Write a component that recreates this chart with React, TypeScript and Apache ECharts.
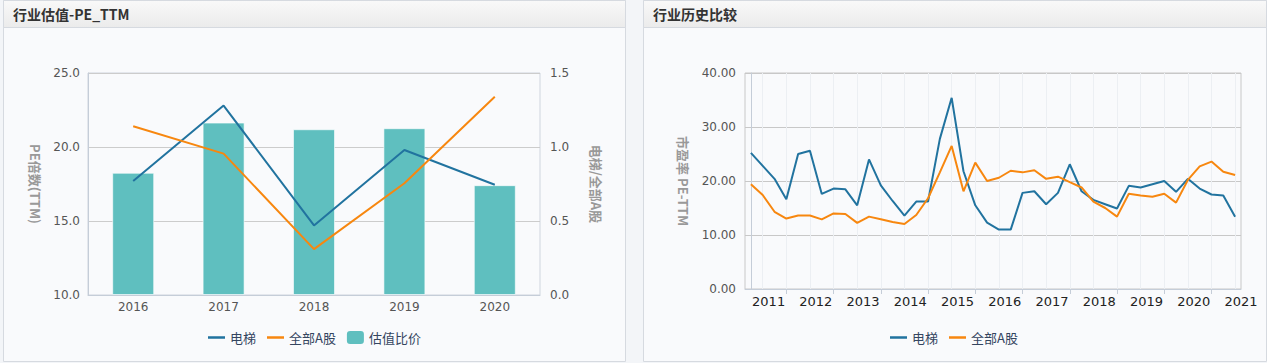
import React, { useEffect, useRef } from 'react';
import * as echarts from 'echarts';

// ---- Left chart: 行业估值-PE_TTM ----
const years = ['2016', '2017', '2018', '2019', '2020'];
const peElevator = [17.7, 22.8, 14.7, 19.8, 17.45];
const peAllA = [21.4, 19.55, 13.1, 17.55, 23.4];
const valuationRatio = [0.826, 1.165, 1.12, 1.127, 0.742];

// ---- Right chart: 行业历史比较 ----
const quarters = [
  '2011Q1', '2011Q2', '2011Q3', '2011Q4',
  '2012Q1', '2012Q2', '2012Q3', '2012Q4',
  '2013Q1', '2013Q2', '2013Q3', '2013Q4',
  '2014Q1', '2014Q2', '2014Q3', '2014Q4',
  '2015Q1', '2015Q2', '2015Q3', '2015Q4',
  '2016Q1', '2016Q2', '2016Q3', '2016Q4',
  '2017Q1', '2017Q2', '2017Q3', '2017Q4',
  '2018Q1', '2018Q2', '2018Q3', '2018Q4',
  '2019Q1', '2019Q2', '2019Q3', '2019Q4',
  '2020Q1', '2020Q2', '2020Q3', '2020Q4',
  '2021Q1', '2021Q2',
];
const histElevator = [
  25.2, 22.8, 20.4, 16.6, 25.0, 25.6, 17.6, 18.6, 18.45, 15.5,
  24.0, 19.2, 16.3, 13.6, 16.2, 16.2, 27.8, 35.4, 21.8, 15.5,
  12.3, 11.0, 11.0, 17.8, 18.1, 15.7, 17.8, 23.1, 18.1, 16.5,
  15.7, 14.9, 19.1, 18.8, 19.4, 20.0, 18.0, 20.4, 18.6, 17.5,
  17.3, 13.4,
];
const histAllA = [
  19.4, 17.4, 14.3, 13.05, 13.6, 13.6, 12.9, 14.0, 13.9, 12.25,
  13.4, 12.9, 12.4, 12.05, 13.7, 16.8, 21.6, 26.5, 18.1, 23.4,
  20.0, 20.6, 21.9, 21.6, 22.0, 20.4, 20.8, 19.8, 18.8, 16.2,
  15.0, 13.4, 17.65, 17.3, 17.1, 17.65, 16.0, 20.2, 22.7, 23.6,
  21.7, 21.1,
];
const yearLabels = ['2011', '2012', '2013', '2014', '2015', '2016', '2017', '2018', '2019', '2020', '2021'];

const FONT_NUM = '"DejaVu Sans", "Noto Sans CJK SC", sans-serif';
const FONT_CJK = '"Noto Sans CJK SC", "DejaVu Sans", sans-serif';

const BLUE = '#21739f';
const ORANGE = '#f7870f';
const TEAL = '#5fbfbf';
const AXIS = '#c5cdd8';

export default function App() {
  const ref = useRef<HTMLDivElement>(null);

  useEffect(() => {
    const chart = echarts.init(ref.current as HTMLDivElement, null, { renderer: 'svg' });

    // tick / label / minor grid positions derived from quarter categories
    const tickPos: number[] = [];
    const halfPos: number[] = [];
    quarters.forEach((q, i) => {
      if (q.endsWith('Q4')) tickPos.push(i);
      if (q.endsWith('Q2') || q.endsWith('Q4')) halfPos.push(i);
    });
    const labelPos = yearLabels.map((y) => quarters.indexOf(y + 'Q1') + 1.5);

    const lineIcon = 'path://M0,0L0.01,0M0,5.25L17,5.25L17,7.75L0,7.75ZM0,13L0.01,13';
    const headerFill = new echarts.graphic.LinearGradient(0, 0, 0, 1, [
      { offset: 0, color: '#f9f9f9' },
      { offset: 1, color: '#ebebeb' },
    ]);

    const panel = (x: number, w: number) => [
      {
        type: 'rect', z: -10, silent: true,
        shape: { x, y: 0.5, width: w, height: 361 },
        style: { fill: '#f9fafc', stroke: '#d6dae0', lineWidth: 1 },
      },
      {
        type: 'rect', z: -9, silent: true,
        shape: { x, y: 0.5, width: w, height: 27 },
        style: { fill: headerFill, stroke: '#d6dae0', lineWidth: 1 },
      },
    ];

    const legendText = { color: '#34455f', fontSize: 13, fontFamily: FONT_CJK };
    const nameStyle = { color: '#999', fontSize: 13, fontWeight: 'bold', fontFamily: FONT_CJK };

    const option: any = {
      animation: false,
      backgroundColor: '#f3f5f8',
      graphic: { elements: [...panel(3.5, 622), ...panel(643.5, 623)] },
      title: [
        {
          text: '行业估值-PE_TTM', left: 13, top: 7, padding: 0,
          textStyle: { fontSize: 14, fontWeight: 'bold', color: '#333', fontFamily: FONT_CJK },
        },
        {
          text: '行业历史比较', left: 653, top: 7, padding: 0,
          textStyle: { fontSize: 14, fontWeight: 'bold', color: '#333', fontFamily: FONT_CJK },
        },
      ],
      legend: [
        {
          left: 203, top: 326, itemWidth: 17, itemHeight: 13, itemGap: 11,
          selectedMode: false, textStyle: legendText, itemStyle: { borderWidth: 0 },
          data: [
            { name: '电梯', icon: lineIcon },
            { name: '全部A股', icon: lineIcon },
            { name: '估值比价', icon: 'roundRect' },
          ],
        },
        {
          left: 885, top: 326, itemWidth: 17, itemHeight: 13, itemGap: 11,
          selectedMode: false, textStyle: legendText, itemStyle: { borderWidth: 0 },
          data: [
            { name: '电梯', icon: lineIcon },
            { name: '全部A股', icon: lineIcon },
          ],
        },
      ],
      grid: [
        { left: 88, top: 73, width: 452, height: 222, show: true, borderColor: '#cfd5de', borderWidth: 1 },
        { left: 745, top: 73, width: 496, height: 216, show: true, borderColor: '#c8c8c8', borderWidth: 1 },
      ],
      xAxis: [
        {
          type: 'category', gridIndex: 0, data: years, boundaryGap: true,
          axisLine: { lineStyle: { color: AXIS } },
          axisTick: { alignWithLabel: true, length: 4, lineStyle: { color: AXIS } },
          axisLabel: { color: '#555', fontSize: 12, margin: 6, fontFamily: FONT_NUM },
          splitLine: { show: false },
        },
        {
          type: 'category', gridIndex: 1, data: quarters, boundaryGap: true,
          axisLine: { lineStyle: { color: AXIS } },
          axisTick: { show: false }, axisLabel: { show: false }, splitLine: { show: false },
        },
        {
          type: 'value', gridIndex: 1, min: -0.5, max: 41.5, position: 'bottom',
          axisLine: { show: false },
          axisTick: { show: true, customValues: tickPos, length: 5, lineStyle: { color: AXIS } },
          axisLabel: {
            customValues: labelPos, color: '#222', fontSize: 13, margin: 6, fontFamily: FONT_NUM,
            formatter: (v: number) => yearLabels[labelPos.indexOf(v)] ?? '',
          },
          splitLine: { show: false },
        },
        {
          type: 'value', gridIndex: 1, min: -0.5, max: 41.5, position: 'top',
          axisLine: { show: false },
          axisTick: { show: false, customValues: halfPos },
          axisLabel: { show: false },
          splitLine: { show: true, lineStyle: { color: '#eceff3', width: 1 } },
        },
      ],
      yAxis: [
        {
          type: 'value', gridIndex: 0, min: 10, max: 25, interval: 5,
          name: 'PE倍数(TTM)', nameLocation: 'middle', nameGap: 46, nameRotate: -90,
          nameTextStyle: nameStyle,
          axisLine: { show: true, lineStyle: { color: AXIS } },
          axisTick: { show: false },
          axisLabel: { color: '#555', fontSize: 12, margin: 8, fontFamily: FONT_NUM, formatter: (v: number) => v.toFixed(1) },
          splitLine: { lineStyle: { color: '#cccccc' } },
        },
        {
          type: 'value', gridIndex: 0, min: 0, max: 1.5, interval: 0.5, position: 'right',
          name: '电梯/全部A股', nameLocation: 'middle', nameGap: 50, nameRotate: -90,
          nameTextStyle: nameStyle,
          axisLine: { show: false }, axisTick: { show: false },
          axisLabel: { color: '#555', fontSize: 12, margin: 10, fontFamily: FONT_NUM, formatter: (v: number) => v.toFixed(1) },
          splitLine: { show: false },
        },
        {
          type: 'value', gridIndex: 1, min: 0, max: 40, interval: 10,
          name: '市盈率 PE-TTM', nameLocation: 'middle', nameGap: 55, nameRotate: -90,
          nameTextStyle: nameStyle,
          axisLine: { show: true, lineStyle: { color: AXIS } },
          axisTick: { show: false },
          axisLabel: { color: '#555', fontSize: 12, margin: 9, fontFamily: FONT_NUM, formatter: (v: number) => v.toFixed(2) },
          splitLine: { lineStyle: { color: '#c8c8c8' } },
        },
      ],
      series: [
        {
          name: '估值比价', type: 'bar', xAxisIndex: 0, yAxisIndex: 1, data: valuationRatio,
          barWidth: 42, itemStyle: { color: TEAL, borderColor: 'rgba(255,255,255,0.6)', borderWidth: 1 },
        },
        {
          name: '电梯', type: 'line', xAxisIndex: 0, yAxisIndex: 0, data: peElevator,
          symbol: 'none', color: BLUE, lineStyle: { width: 2, color: BLUE },
        },
        {
          name: '全部A股', type: 'line', xAxisIndex: 0, yAxisIndex: 0, data: peAllA,
          symbol: 'none', color: ORANGE, lineStyle: { width: 2, color: ORANGE },
        },
        {
          name: '电梯', type: 'line', xAxisIndex: 1, yAxisIndex: 2, data: histElevator,
          symbol: 'none', color: BLUE, lineStyle: { width: 2, color: BLUE },
        },
        {
          name: '全部A股', type: 'line', xAxisIndex: 1, yAxisIndex: 2, data: histAllA,
          symbol: 'none', color: ORANGE, lineStyle: { width: 2, color: ORANGE },
        },
      ],
    };

    chart.setOption(option);
    return () => chart.dispose();
  }, []);

  return (
    <div
      ref={ref}
      style={{ position: 'fixed', left: 0, top: 0, width: 1267, height: 363 }}
    />
  );
}
